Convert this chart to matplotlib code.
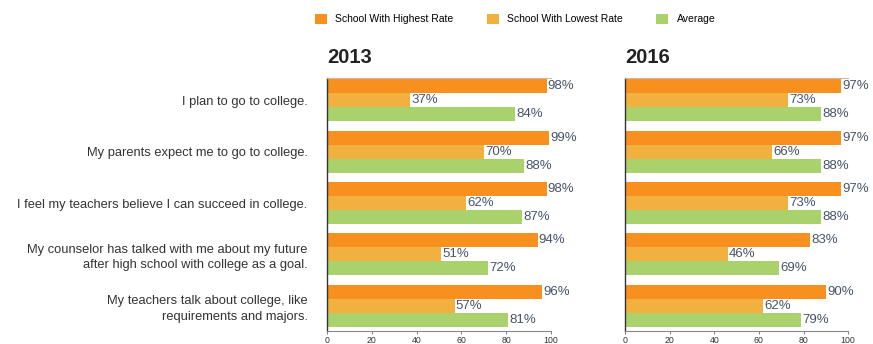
import matplotlib
matplotlib.use('Agg')
import matplotlib.pyplot as plt
from matplotlib.patches import Patch
import numpy as np

plt.rcParams['font.family'] = ['Liberation Sans', 'DejaVu Sans']

questions = ['I plan to go to college.',
             'My parents expect me to go to college.',
             'I feel my teachers believe I can succeed in college.',
             'My counselor has talked with me about my future\nafter high school with college as a goal.',
             'My teachers talk about college, like\nrequirements and majors.']
series = ['School With Highest Rate', 'School With Lowest Rate', 'Average']
colors = ['#F7901E', '#F2B13F', '#A9D16C']

high_2013 = [98, 99, 98, 94, 96]
low_2013 = [37, 70, 62, 51, 57]
avg_2013 = [84, 88, 87, 72, 81]
high_2016 = [97, 97, 97, 83, 90]
low_2016 = [73, 66, 73, 46, 62]
avg_2016 = [88, 88, 88, 69, 79]

years = ['2013', '2016']
data = {'2013': [high_2013, low_2013, avg_2013],
        '2016': [high_2016, low_2016, avg_2016]}

fig = plt.figure(figsize=(8.73, 3.44), dpi=100)
ax_l = fig.add_axes([0.3746, 0.038, 0.2566, 0.735])
ax_r = fig.add_axes([0.716, 0.038, 0.2555, 0.735])

y = np.arange(len(questions))
h = 0.272
for ax, yr in zip([ax_l, ax_r], years):
    for k, vals in enumerate(data[yr]):
        pos = y + (k - 1) * h
        ax.barh(pos, vals, height=h, color=colors[k], edgecolor='none')
        for p, v in zip(pos, vals):
            ax.text(v + 0.5, p, f'{v}%', va='center', ha='left',
                    fontsize=9.5, color='#46546a')
    ax.set_xlim(0, 100)
    ax.set_ylim(4.485, -0.427)
    ax.set_xticks([0, 20, 40, 60, 80, 100])
    ax.tick_params(axis='x', labelsize=6.3, length=2, width=0.6, color='#666666',
                   labelcolor='#333333', pad=1.5)
    ax.tick_params(axis='y', length=0)
    ax.spines['right'].set_visible(False)
    ax.spines['top'].set_color('#c9b9a8')
    ax.spines['top'].set_linewidth(0.8)
    ax.spines['left'].set_color('#333333')
    ax.spines['left'].set_linewidth(1.0)
    ax.spines['bottom'].set_color('#888888')
    ax.spines['bottom'].set_linewidth(0.8)
    ax.set_title(yr, loc='left', fontsize=14.5, fontweight='bold',
                 color='#222222', pad=11)

ax_l.set_yticks(y)
ax_l.set_yticklabels(questions, fontsize=9.3, color='#333333', ha='right',
                     linespacing=1.35)
ax_l.tick_params(axis='y', pad=14)
ax_r.set_yticks([])

handles = [Patch(facecolor=c, edgecolor='none') for c in colors]
fig.legend(handles, series, loc='center', bbox_to_anchor=(0.59, 0.945), ncol=3,
           frameon=False, fontsize=7.5, handlelength=1.15, handleheight=1.15,
           columnspacing=3.2, handletextpad=0.8)

fig.savefig('out.png', dpi=100)
